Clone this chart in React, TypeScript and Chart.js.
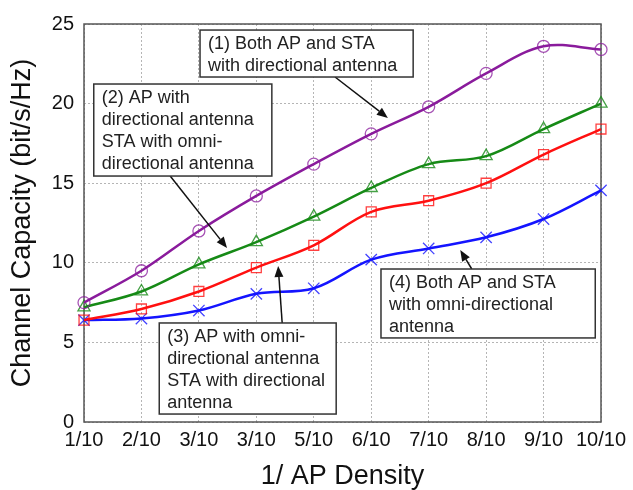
import React, { useEffect, useRef } from "react";
import { Chart, registerables } from "chart.js";

Chart.register(...registerables);

const categories = ["1/10", "2/10", "3/10", "3/10", "5/10", "6/10", "7/10", "8/10", "9/10", "10/10"];
const seriesBothDirectional = [7.5, 9.5, 12.0, 14.2, 16.2, 18.1, 19.8, 21.9, 23.6, 23.4];
const seriesApDirectional = [7.2, 8.2, 9.9, 11.3, 12.9, 14.7, 16.2, 16.7, 18.4, 20.0];
const seriesStaDirectional = [6.4, 7.1, 8.2, 9.7, 11.1, 13.2, 13.9, 15.0, 16.8, 18.4];
const seriesBothOmni = [6.4, 6.5, 7.0, 8.05, 8.4, 10.2, 10.9, 11.6, 12.75, 14.55];
const yMin = 0;
const yMax = 25;
const yStep = 5;

const FONT = "'Liberation Sans', Arial, sans-serif";

const annotations = [
  {
    box: [2.02, 5.73, 24.62, 21.67],
    lines: ["(1) Both AP and STA", "with directional antenna"],
    arrow: [4.37, 21.67, 5.29, 19.1],
  },
  {
    box: [0.17, 3.27, 21.23, 15.45],
    lines: ["(2) AP with", "directional antenna", "STA with omni-", "directional antenna"],
    arrow: [1.5, 15.45, 2.49, 10.93],
  },
  {
    box: [1.31, 4.39, 6.22, 0.5],
    lines: ["(3) AP with omni-", "directional antenna", "STA with directional", "antenna"],
    arrow: [3.45, 6.22, 3.38, 9.8],
  },
  {
    box: [5.17, 8.9, 9.61, 5.28],
    lines: ["(4) Both AP and STA", "with omni-directional", "antenna"],
    arrow: [6.75, 9.61, 6.55, 10.8],
  },
];

const framePlugin = {
  id: "frameAndNotes",
  beforeDatasetsDraw(chart: any) {
    const { ctx, chartArea: a } = chart;
    ctx.save();
    ctx.strokeStyle = "#555";
    ctx.lineWidth = 1.5;
    ctx.strokeRect(a.left, a.top, a.right - a.left, a.bottom - a.top);
    ctx.restore();
  },
  afterDatasetsDraw(chart: any) {
    const { ctx } = chart;
    const xs = chart.scales.x;
    const ys = chart.scales.y;
    ctx.save();
    for (const an of annotations) {
      const [bx0, bx1, byT, byB] = an.box;
      const l = xs.getPixelForValue(bx0);
      const r = xs.getPixelForValue(bx1);
      const t = ys.getPixelForValue(byT);
      const b = ys.getPixelForValue(byB);
      // arrow
      const [ax0, ay0, ax1, ay1] = an.arrow;
      const p0x = xs.getPixelForValue(ax0);
      const p0y = ys.getPixelForValue(ay0);
      const p1x = xs.getPixelForValue(ax1);
      const p1y = ys.getPixelForValue(ay1);
      const ang = Math.atan2(p1y - p0y, p1x - p0x);
      const hl = 11;
      const hw = 4.5;
      const bxp = p1x - hl * Math.cos(ang);
      const byp = p1y - hl * Math.sin(ang);
      ctx.strokeStyle = "#111";
      ctx.lineWidth = 1.5;
      ctx.beginPath();
      ctx.moveTo(p0x, p0y);
      ctx.lineTo(bxp, byp);
      ctx.stroke();
      ctx.fillStyle = "#111";
      ctx.beginPath();
      ctx.moveTo(p1x, p1y);
      ctx.lineTo(bxp + hw * Math.sin(ang), byp - hw * Math.cos(ang));
      ctx.lineTo(bxp - hw * Math.sin(ang), byp + hw * Math.cos(ang));
      ctx.closePath();
      ctx.fill();
      // box
      ctx.fillStyle = "#fff";
      ctx.fillRect(l, t, r - l, b - t);
      ctx.strokeStyle = "#333";
      ctx.lineWidth = 1.5;
      ctx.strokeRect(l, t, r - l, b - t);
      ctx.fillStyle = "#222";
      ctx.font = `18px ${FONT}`;
      ctx.textAlign = "left";
      ctx.textBaseline = "alphabetic";
      an.lines.forEach((ln, i) => {
        ctx.fillText(ln, l + 8, t + 19 + i * 22);
      });
    }
    ctx.restore();
  },
};

export default function App() {
  const ref = useRef<HTMLCanvasElement | null>(null);
  useEffect(() => {
    document.body.style.margin = "0";
    if (!ref.current) return;
    const common = {
      borderWidth: 2.5,
      tension: 0.35,
      pointRadius: 6,
      pointBorderWidth: 1.3,
      pointBackgroundColor: "rgba(0,0,0,0)",
      fill: false,
    };
    const chart = new Chart(ref.current, {
      type: "line",
      data: {
        labels: categories,
        datasets: [
          {
            ...common,
            label: "(1) Both AP and STA with directional antenna",
            data: seriesBothDirectional,
            borderColor: "#8a1b9c",
            pointBorderColor: "rgba(138,27,156,0.75)",
            pointStyle: "circle",
          },
          {
            ...common,
            label: "(2) AP with directional antenna STA with omni-directional antenna",
            data: seriesApDirectional,
            borderColor: "#168a16",
            pointBorderColor: "rgba(22,138,22,0.8)",
            pointStyle: "triangle",
            pointRadius: 7,
          },
          {
            ...common,
            label: "(3) AP with omni-directional antenna STA with directional antenna",
            data: seriesStaDirectional,
            borderColor: "#ff1010",
            pointBorderColor: "rgba(255,16,16,0.8)",
            pointStyle: "rect",
            pointRadius: 7,
          },
          {
            ...common,
            label: "(4) Both AP and STA with omni-directional antenna",
            data: seriesBothOmni,
            borderColor: "#1414ff",
            pointBorderColor: "rgba(20,20,255,0.8)",
            pointStyle: "crossRot",
            pointRadius: 8,
          },
        ],
      },
      options: {
        animation: false,
        responsive: true,
        maintainAspectRatio: false,
        layout: { padding: { left: 0, right: 32, top: 24, bottom: 0 } },
        plugins: { legend: { display: false }, tooltip: { enabled: false } },
        scales: {
          x: {
            offset: false,
            grid: {
              offset: false,
              color: "#b5b5b5",
              lineWidth: 1,
              drawTicks: false,
            },
            border: { display: false, dash: [2, 2] },
            ticks: {
              color: "#111",
              font: { family: FONT, size: 20 },
              padding: 6,
              maxRotation: 0,
              autoSkip: false,
            },
            title: {
              display: true,
              text: "1/ AP Density",
              color: "#111",
              font: { family: FONT, size: 27, lineHeight: 1 },
              padding: 0,
            },
            afterFit(scale: any) {
              scale.height = 68;
            },
          },
          y: {
            min: yMin,
            max: yMax,
            grid: { color: "#b5b5b5", lineWidth: 1, drawTicks: false },
            border: { display: false, dash: [2, 2] },
            ticks: {
              stepSize: yStep,
              color: "#111",
              font: { family: FONT, size: 20 },
              padding: 10,
            },
            title: {
              display: true,
              text: "Channel Capacity (bit/s/Hz)",
              color: "#111",
              font: { family: FONT, size: 27, lineHeight: 1 },
              padding: { top: 9, bottom: 0 },
            },
            afterFit(scale: any) {
              scale.width = 84;
            },
          },
        },
      },
      plugins: [framePlugin],
    });
    return () => chart.destroy();
  }, []);
  return (
    <div style={{ width: 633, height: 490, position: "relative" }}>
      <canvas ref={ref} />
    </div>
  );
}
